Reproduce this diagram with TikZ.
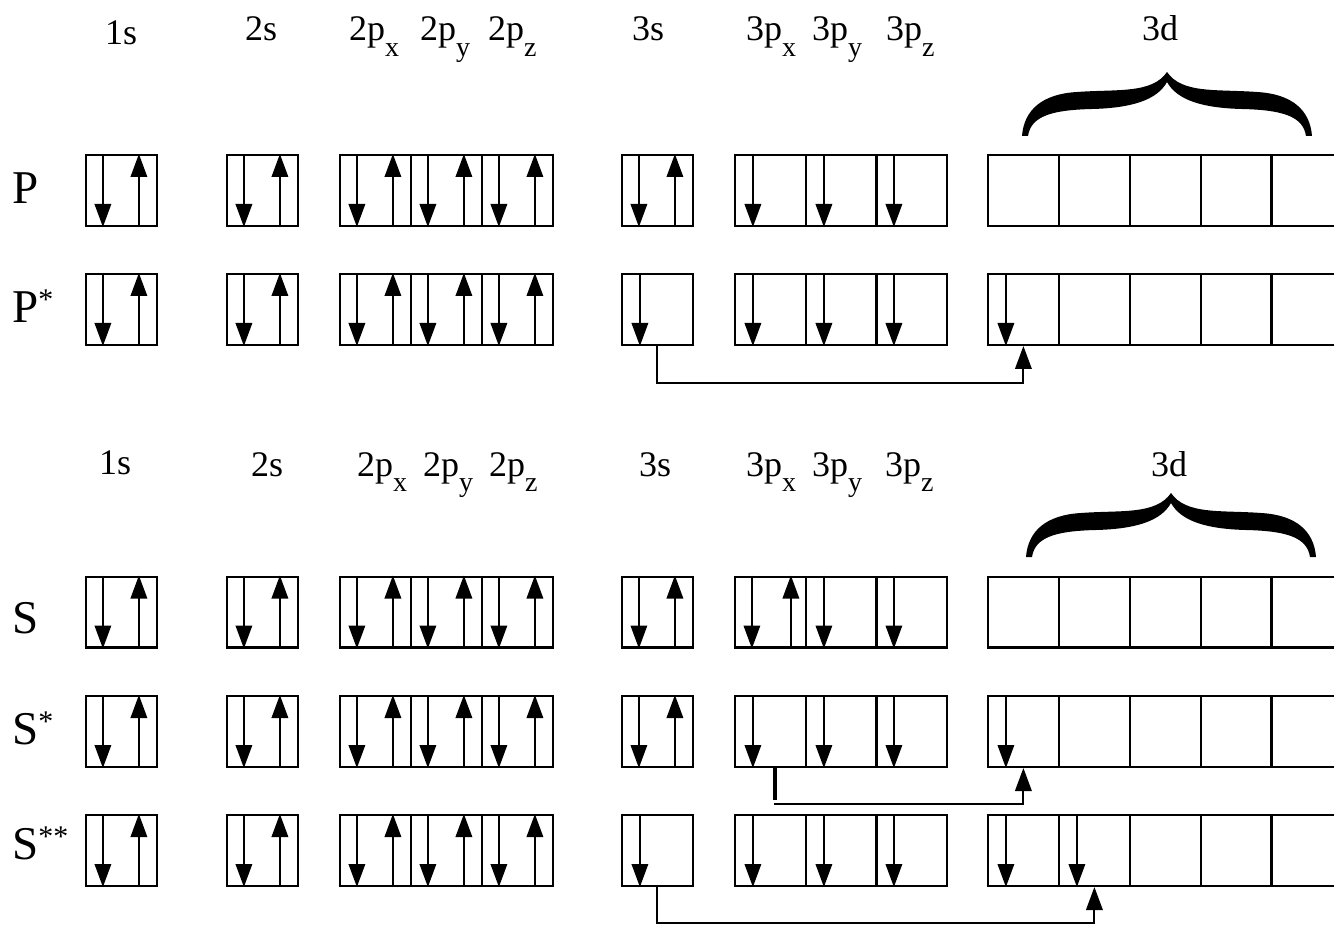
\documentclass[tikz,border=0pt]{standalone}
\usepackage{fontspec}
\setmainfont{Liberation Serif}
\usetikzlibrary{arrows.meta,calc}
\newcommand\sbx[1]{\raisebox{-0.42em}{\fontsize{28}{28}\selectfont #1}}
\newcommand\supast[1]{\raisebox{13pt}{\fontsize{30}{30}\selectfont #1}}
\tikzset{
  orbbox/.style={draw, line width=2.2pt, minimum width=70.8pt, minimum height=70.8pt, inner sep=0pt},
  dn/.style={line width=1.8pt, -{Triangle[length=23pt,width=16.5pt]}},
  conn/.style={line width=2pt, -{Triangle[length=23pt,width=16.5pt]}},
  hlab/.style={anchor=base west, inner sep=0pt, font=\fontsize{36}{42}\selectfont},
  rlab/.style={anchor=base west, inner sep=0pt, font=\fontsize{47}{50}\selectfont},
}
\newcommand\orb[4]{%
  \node[orbbox] (#1) at (#2+35.4,#3) {};
  \ifcase#4\relax
  \or
    \draw[dn] ($(#1.north west)+(19,0)$) -- ($(#1.south west)+(19,0)$);
  \or
    \draw[dn] ($(#1.north west)+(18,0)$) -- ($(#1.south west)+(18,0)$);
    \draw[dn] ($(#1.south west)+(54,0)$) -- ($(#1.north west)+(54,0)$);
  \or
    \draw[dn] ($(#1.north west)+(18,0)$) -- ($(#1.south west)+(18,0)$);
    \draw[dn] ($(#1.south west)+(57,0)$) -- ($(#1.north west)+(57,0)$);
  \fi}
\newcommand\bracehalf{\fill (-145,64) .. controls (-143,38) and (-125,22) .. (-90,20) .. controls (-50,17) and (-15,22) .. (0,0) -- (0,10) .. controls (-10,28) and (-35,36) .. (-75,37) .. controls (-115,38) and (-136,44) .. (-139,64) -- cycle;}
\newcommand\dbrace[2]{\begin{scope}[shift={(#1,#2)}]\bracehalf\begin{scope}[xscale=-1]\bracehalf\end{scope}\end{scope}}
\begin{document}
\begin{tikzpicture}[x=1pt,y=-1pt]
\fill[white] (0,0) rectangle (1334,925);
\useasboundingbox (0,0) rectangle (1334,925);
% headers
\node[hlab] (a1s) at (105,45) {1s};
\node[hlab] (a2s) at (245,41) {2s};
\node[hlab] (a2px) at (349,41) {2p\sbx{x}};
\node[hlab] (a2py) at (420,41) {2p\sbx{y}};
\node[hlab] (a2pz) at (488,41) {2p\sbx{z}};
\node[hlab] (a3s) at (632,41) {3s};
\node[hlab] (a3px) at (746,41) {3p\sbx{x}};
\node[hlab] (a3py) at (812,41) {3p\sbx{y}};
\node[hlab] (a3pz) at (886,41) {3p\sbx{z}};
\node[hlab] (a3d) at (1142,41) {3d};
\node[hlab] (b1s) at (99,474) {1s};
\node[hlab] (b2s) at (251,476) {2s};
\node[hlab] (b2px) at (357,476) {2p\sbx{x}};
\node[hlab] (b2py) at (423,476) {2p\sbx{y}};
\node[hlab] (b2pz) at (489,476) {2p\sbx{z}};
\node[hlab] (b3s) at (639,476) {3s};
\node[hlab] (b3px) at (746,476) {3p\sbx{x}};
\node[hlab] (b3py) at (812,476) {3p\sbx{y}};
\node[hlab] (b3pz) at (885,476) {3p\sbx{z}};
\node[hlab] (b3d) at (1151,476) {3d};
% braces
\dbrace{1167}{72}
\dbrace{1171}{493}
% row labels
\node[rlab] (lP) at (12,204) {P};
\node[rlab] (lPs) at (12,323) {P\supast{*}};
\node[rlab] (lS) at (12,633) {S};
\node[rlab] (lSs) at (12,744) {S\supast{*}};
\node[rlab] (lSss) at (12,859) {S\supast{**}};
% rows
\foreach \n/\x/\o in {1s/86/2,2s/227/2,2px/340/2,2py/411/2,2pz/482/2,3s/622/2,3px/735/1,3py/806/1,3pz/876/1,3d1/988/0,3d2/1059/0,3d3/1130/0,3d4/1201/0,3d5/1271/0}
  {\orb{P-\n}{\x}{190.5}{\o}}
\foreach \n/\x/\o in {1s/86/2,2s/227/2,2px/340/2,2py/411/2,2pz/482/2,3s/622/1,3px/735/1,3py/806/1,3pz/876/1,3d1/988/1,3d2/1059/0,3d3/1130/0,3d4/1201/0,3d5/1271/0}
  {\orb{Ps-\n}{\x}{309.5}{\o}}
\foreach \n/\x/\o in {1s/86/2,2s/227/2,2px/340/2,2py/411/2,2pz/482/2,3s/622/2,3px/735/3,3py/806/1,3pz/876/1,3d1/988/0,3d2/1059/0,3d3/1130/0,3d4/1201/0,3d5/1271/0}
  {\orb{S-\n}{\x}{612}{\o}}
\foreach \n/\x/\o in {1s/86/2,2s/227/2,2px/340/2,2py/411/2,2pz/482/2,3s/622/2,3px/735/1,3py/806/1,3pz/876/1,3d1/988/1,3d2/1059/0,3d3/1130/0,3d4/1201/0,3d5/1271/0}
  {\orb{Ss-\n}{\x}{731.5}{\o}}
\foreach \n/\x/\o in {1s/86/2,2s/227/2,2px/340/2,2py/411/2,2pz/482/2,3s/622/1,3px/735/1,3py/806/1,3pz/876/1,3d1/988/1,3d2/1059/1,3d3/1130/0,3d4/1201/0,3d5/1271/0}
  {\orb{Sss-\n}{\x}{850.5}{\o}}
% connectors
\coordinate (k1) at (840,383);
\draw[conn] (Ps-3s.south) |- (k1) -| (Ps-3d1.south);
\draw[line width=3.5pt] ($(Ss-3px.south west)+(41,0)$) -- ++(0,32);
\coordinate (k2) at (774,804);
\draw[conn] (k2) -| (Ss-3d1.south);
\coordinate (k3) at (840,923);
\draw[conn] (Sss-3s.south) |- (k3) -| (Sss-3d2.south);
\end{tikzpicture}
\end{document}
